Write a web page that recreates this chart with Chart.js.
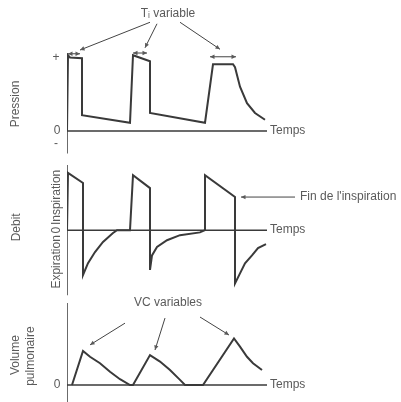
<!DOCTYPE html>
<html>
<head>
<meta charset="utf-8">
<script src="https://cdn.jsdelivr.net/npm/chart.js@4/dist/chart.umd.min.js"></script>
<style>
  html, body { margin: 0; padding: 0; background: #fff; }
  #wrap { width: 401px; height: 402px; }
</style>
</head>
<body>
<div id="wrap"><canvas id="chart-ventil"></canvas></div>
<script>
// Courbes (temps en unités arbitraires)
let pressionT = [0, 0.1, 0.3, 1.5, 1.5, 6.3, 6.6, 8.3, 8.3, 13.8, 14.6, 16.6, 16.8, 17.3, 18.0, 18.8, 19.8];
let pressionV = [0, 1.01, 0.98, 0.97, 0.21, 0.11, 1.01, 0.93, 0.24, 0.11, 0.89, 0.89, 0.85, 0.59, 0.37, 0.24, 0.15];

let debitT = [0, 0.1, 1.6, 1.6, 2.1, 2.8, 3.6, 4.6, 5.0, 6.3, 6.6, 8.3, 8.3, 8.5, 9.0, 10.0, 11.3, 13.3, 13.8, 13.8, 16.8, 16.8, 17.3, 17.8, 18.5, 19.1, 19.9];
let debitV = [0, 1.02, 0.84, -0.80, -0.59, -0.39, -0.21, -0.05, 0, 0, 0.98, 0.75, -0.71, -0.45, -0.30, -0.18, -0.09, -0.04, 0, 0.98, 0.59, -0.95, -0.77, -0.59, -0.45, -0.32, -0.25];

let volumeT = [0.5, 1.6, 2.3, 3.3, 4.3, 5.3, 6.3, 6.6, 8.3, 9.3, 10.3, 11.3, 11.8, 13.6, 16.7, 17.3, 18.0, 18.6, 19.5];
let volumeV = [0, 1.0, 0.83, 0.64, 0.39, 0.17, 0, 0, 0.88, 0.69, 0.44, 0.15, 0, 0, 1.37, 1.13, 0.83, 0.64, 0.44];

let tempsFin = 20;
// inspirations (Ti) : début / fin
let tiDebut = [0.1, 6.6, 14.3];
let tiFin = [1.3, 8.0, 16.9];

function pts(t, v) {
    return t.map((x, i) => ({ x: x, y: v[i] }));
}

const encre = '#3a3a3a';
const texte = '#5a5a5a';

function ligne(data, axe, w) {
    return {
        data: data,
        yAxisID: axe,
        borderColor: encre,
        borderWidth: w,
        pointRadius: 0,
        tension: 0,
        fill: false
    };
}

function fleche(ctx, x1, y1, x2, y2, tete1, tete2) {
    ctx.beginPath();
    ctx.moveTo(x1, y1);
    ctx.lineTo(x2, y2);
    ctx.stroke();
    const a = Math.atan2(y2 - y1, x2 - x1);
    const pointe = (x, y, ang) => {
        ctx.beginPath();
        ctx.moveTo(x, y);
        ctx.lineTo(x - 5 * Math.cos(ang - 0.45), y - 5 * Math.sin(ang - 0.45));
        ctx.lineTo(x - 5 * Math.cos(ang + 0.45), y - 5 * Math.sin(ang + 0.45));
        ctx.closePath();
        ctx.fill();
    };
    if (tete2) pointe(x2, y2, a);
    if (tete1) pointe(x1, y1, a + Math.PI);
}

const annotations = {
    id: 'annotations',
    afterDatasetsDraw(chart) {
        const ctx = chart.ctx;
        const x = chart.scales.x, yP = chart.scales.yP, yD = chart.scales.yD, yV = chart.scales.yV;
        const X = v => x.getPixelForValue(v);
        ctx.save();
        ctx.fillStyle = texte;
        ctx.strokeStyle = '#444';
        ctx.lineWidth = 1;
        ctx.font = '12px "Liberation Sans", Arial, sans-serif';
        ctx.textBaseline = 'middle';

        // "Temps" au bout de chaque axe du temps
        ctx.textAlign = 'left';
        [yP, yD, yV].forEach(s => ctx.fillText('Temps', X(tempsFin) + 3, s.getPixelForValue(0)));

        // graduations
        ctx.textAlign = 'center';
        ctx.fillText('+', X(0) - 11, yP.getPixelForValue(0.98));
        ctx.fillText('0', X(0) - 10, yP.getPixelForValue(0));
        ctx.fillText('-', X(0) - 11, yP.getPixelForValue(-0.17));
        ctx.fillText('0', X(0) - 10, yV.getPixelForValue(0));

        // titres verticaux
        const vertical = (str, px, py, align) => {
            ctx.save();
            ctx.translate(px, py);
            ctx.rotate(-Math.PI / 2);
            ctx.textAlign = align;
            ctx.fillText(str, 0, 0);
            ctx.restore();
        };
        vertical('Pression', 16, yP.getPixelForValue(0.36), 'center');
        vertical('Debit', 17, yD.getPixelForValue(0.05), 'center');
        vertical('Inspiration', X(0) - 10, yD.getPixelForValue(0.09), 'left');
        vertical('0', X(0) - 10, yD.getPixelForValue(0), 'center');
        vertical('Expiration', X(0) - 10, yD.getPixelForValue(-0.09), 'right');
        vertical('Volume', 16, yV.getPixelForValue(0.88), 'center');
        vertical('pulmonaire', 31, yV.getPixelForValue(0.85), 'center');

        // Ti variable
        ctx.fillText('T\u1D62 variable', X(10.1), yP.getPixelForValue(1.56));
        const yTi = [1.03, 1.04, 0.99];
        const departs = [[8.3, 1.45], [9.0, 1.43], [11.3, 1.45]];
        const cibles = [[1.3, 1.08], [7.8, 1.11], [15.3, 1.09]];
        tiDebut.forEach((d, i) => {
            const yy = yP.getPixelForValue(yTi[i]);
            fleche(ctx, X(d), yy, X(tiFin[i]), yy, true, true);
            fleche(ctx, X(departs[i][0]), yP.getPixelForValue(departs[i][1]),
                X(cibles[i][0]), yP.getPixelForValue(cibles[i][1]), false, true);
        });

        // Fin de l'inspiration
        const yFin = yD.getPixelForValue(0.59);
        fleche(ctx, X(22.8), yFin, X(17.4), yFin, false, true);
        ctx.textAlign = 'left';
        ctx.fillText("Fin de l'inspiration", X(23.3), yFin);

        // VC variables
        ctx.textAlign = 'center';
        ctx.fillText('VC variables', X(10.1), yV.getPixelForValue(2.41));
        fleche(ctx, X(5.8), yV.getPixelForValue(1.82), X(2.3), yV.getPixelForValue(1.18), false, true);
        fleche(ctx, X(9.8), yV.getPixelForValue(1.97), X(8.8), yV.getPixelForValue(1.03), false, true);
        fleche(ctx, X(13.3), yV.getPixelForValue(2.0), X(16.2), yV.getPixelForValue(1.47), false, true);
        ctx.restore();
    }
};

new Chart(document.getElementById('chart-ventil').getContext('2d'), {
    type: 'line',
    data: {
        datasets: [
            // axes dessinés comme des séries
            ligne(pts([0, 0], [-0.3, 1.04]), 'yP', 1.5),
            ligne(pts([0, tempsFin], [0, 0]), 'yP', 1.5),
            ligne(pts([0, 0], [-1.16, 1.16]), 'yD', 1.5),
            ligne(pts([0, tempsFin], [0, 0]), 'yD', 1.5),
            ligne(pts([0, 0], [-0.5, 2.41]), 'yV', 1.5),
            ligne(pts([0, tempsFin], [0, 0]), 'yV', 1.5),
            // courbes
            ligne(pts(pressionT, pressionV), 'yP', 2),
            ligne(pts(debitT, debitV), 'yD', 2),
            ligne(pts(volumeT, volumeV), 'yV', 2)
        ]
    },
    options: {
        responsive: true,
        maintainAspectRatio: false,
        animation: false,
        layout: { padding: { left: 67, right: 0, top: 0, bottom: 0 } },
        plugins: { legend: { display: false }, tooltip: { enabled: false } },
        scales: {
            x: { type: 'linear', min: 0, max: 33.4, display: false },
            // empilés de bas en haut
            yV: { type: 'linear', position: 'left', stack: 'panneaux', stackWeight: 104, min: -0.5, max: 2.56, display: false },
            yD: { type: 'linear', position: 'left', stack: 'panneaux', stackWeight: 143, min: -1.21, max: 1.34, display: false },
            yP: { type: 'linear', position: 'left', stack: 'panneaux', stackWeight: 155, min: -0.32, max: 1.747, display: false }
        }
    },
    plugins: [annotations]
});
</script>
</body>
</html>
